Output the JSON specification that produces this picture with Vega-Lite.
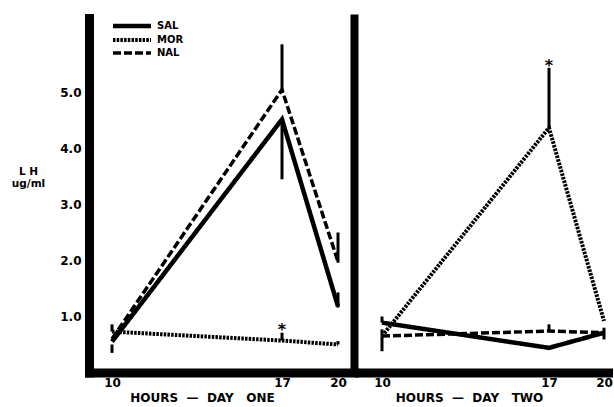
{
  "$schema": "https://vega.github.io/schema/vega-lite/v6.json",
  "padding": {"left": 11, "top": 18, "right": 0, "bottom": 0},
  "background": "white",
  "spacing": 0,
  "bounds": "flush",
  "datasets": {
    "lh": [
      {"day": "ONE", "group": "SAL", "hour": 10, "lh": 0.55},
      {"day": "ONE", "group": "SAL", "hour": 17, "lh": 4.52},
      {"day": "ONE", "group": "SAL", "hour": 20, "lh": 1.18},
      {"day": "ONE", "group": "MOR", "hour": 10, "lh": 0.73},
      {"day": "ONE", "group": "MOR", "hour": 17, "lh": 0.57},
      {"day": "ONE", "group": "MOR", "hour": 20, "lh": 0.5},
      {"day": "ONE", "group": "NAL", "hour": 10, "lh": 0.6},
      {"day": "ONE", "group": "NAL", "hour": 17, "lh": 5.05},
      {"day": "ONE", "group": "NAL", "hour": 20, "lh": 1.98},
      {"day": "TWO", "group": "SAL", "hour": 10, "lh": 0.89},
      {"day": "TWO", "group": "SAL", "hour": 17, "lh": 0.44},
      {"day": "TWO", "group": "SAL", "hour": 20, "lh": 0.71},
      {"day": "TWO", "group": "MOR", "hour": 10, "lh": 0.65},
      {"day": "TWO", "group": "MOR", "hour": 17, "lh": 4.37},
      {"day": "TWO", "group": "MOR", "hour": 20, "lh": 0.92},
      {"day": "TWO", "group": "NAL", "hour": 10, "lh": 0.65},
      {"day": "TWO", "group": "NAL", "hour": 17, "lh": 0.74},
      {"day": "TWO", "group": "NAL", "hour": 20, "lh": 0.71}
    ],
    "err": [
      {"day": "ONE", "hour": 10, "lo": 0.73, "hi": 0.86},
      {"day": "ONE", "hour": 10, "lo": 0.35, "hi": 0.5},
      {"day": "ONE", "hour": 17, "lo": 3.45, "hi": 4.52},
      {"day": "ONE", "hour": 17, "lo": 5.05, "hi": 5.86},
      {"day": "ONE", "hour": 17, "lo": 0.57, "hi": 0.71},
      {"day": "ONE", "hour": 20, "lo": 1.16, "hi": 1.43},
      {"day": "ONE", "hour": 20, "lo": 1.96, "hi": 2.5},
      {"day": "ONE", "hour": 20, "lo": 0.5, "hi": 0.56},
      {"day": "TWO", "hour": 10, "lo": 0.89, "hi": 1.0},
      {"day": "TWO", "hour": 10, "lo": 0.38, "hi": 0.77},
      {"day": "TWO", "hour": 17, "lo": 4.37, "hi": 5.44},
      {"day": "TWO", "hour": 17, "lo": 0.74, "hi": 0.86},
      {"day": "TWO", "hour": 20, "lo": 0.59, "hi": 0.8}
    ],
    "star": [
      {"day": "ONE", "hour": 17, "lh": 0.84, "sig": "*"},
      {"day": "TWO", "hour": 17, "lh": 5.56, "sig": "*"}
    ]
  },
  "config": {
    "view": {"stroke": null},
    "font": "DejaVu Sans",
    "axis": {
      "grid": false,
      "ticks": false,
      "domainColor": "black",
      "labelColor": "black",
      "titleColor": "black",
      "labelFont": "DejaVu Sans",
      "titleFont": "DejaVu Sans",
      "labelFontWeight": "bold",
      "titleFontWeight": "bold"
    }
  },
  "resolve": {
    "scale": {"x": "independent", "y": "independent", "strokeDash": "independent", "strokeWidth": "independent"},
    "legend": {"strokeDash": "independent"}
  },
  "hconcat": [
    {
      "width": 265,
      "height": 354.5,
      "layer": [
        {
          "data": {"name": "lh"},
          "transform": [{"filter": "datum.day === 'ONE'"}],
          "mark": {"type": "line", "color": "black", "strokeCap": "butt"},
          "encoding": {
            "x": {
              "field": "hour", "type": "quantitative",
              "scale": {"domain": [9, 10, 17, 20, 20.64], "range": [0, 23, 193, 249, 265], "nice": false, "zero": false},
              "axis": {
                "values": [10, 17, 20], "labelFontSize": 12, "labelPadding": 5,
                "domainWidth": 9, "domainCap": "square",
                "title": "HOURS\u00a0\u00a0—\u00a0\u00a0DAY\u00a0\u00a0\u00a0ONE", "titleFontSize": 12, "titleX": 113, "titleAlign": "center",
                "titlePadding": 4, "labelFlush": false, "labelOverlap": false
              }
            },
            "y": {
              "field": "lh", "type": "quantitative",
              "scale": {"domain": [0, 6.33], "nice": false, "zero": false},
              "axis": {
                "values": [1, 2, 3, 4, 5], "format": ".1f", "labelFontSize": 12, "labelPadding": 8,
                "domainWidth": 9, "domainCap": "square",
                "title": ["L H", "ug/ml"], "titleAngle": 0, "titleFontSize": 10.5,
                "titleAlign": "center", "titleBaseline": "top", "titleX": -61, "titleY": 148,
                "titleLineHeight": 12.5
              }
            },
            "strokeDash": {
              "field": "group", "type": "nominal",
              "scale": {"domain": ["SAL", "MOR", "NAL"], "range": [[1, 0], [2.5, 1.2], [8, 3]]},
              "legend": {
                "orient": "none", "legendX": 56, "legendY": 3, "title": null,
                "symbolType": "M-37,0H1", "symbolSize": 4, "symbolStrokeWidth": 3.5,
                "symbolStrokeColor": "black", "labelFontSize": 10, "labelFontWeight": "bold",
                "labelFont": "DejaVu Sans", "labelOffset": 2, "rowPadding": -10, "padding": 0,
                "labelColor": "black"
              }
            },
            "strokeWidth": {
              "field": "group", "type": "nominal",
              "scale": {"domain": ["SAL", "MOR", "NAL"], "range": [4.5, 3.5, 3.5]},
              "legend": null
            }
          }
        },
        {
          "data": {"name": "err"},
          "transform": [{"filter": "datum.day === 'ONE'"}],
          "mark": {"type": "rule", "color": "black", "strokeWidth": 3},
          "encoding": {
            "x": {"field": "hour", "type": "quantitative"},
            "y": {"field": "lo", "type": "quantitative"},
            "y2": {"field": "hi"}
          }
        },
        {
          "data": {"name": "star"},
          "transform": [{"filter": "datum.day === 'ONE'"}],
          "mark": {"type": "text", "fontSize": 16, "fontWeight": "bold", "color": "black", "baseline": "middle", "dy": 5},
          "encoding": {
            "x": {"field": "hour", "type": "quantitative"},
            "y": {"field": "lh", "type": "quantitative"},
            "text": {"field": "sig"}
          }
        }
      ]
    },
    {
      "width": 259,
      "height": 354.5,
      "layer": [
        {
          "data": {"name": "lh"},
          "transform": [{"filter": "datum.day === 'TWO'"}],
          "mark": {"type": "line", "color": "black", "strokeCap": "butt"},
          "encoding": {
            "x": {
              "field": "hour", "type": "quantitative",
              "scale": {"domain": [9, 10, 17, 20, 20.2], "range": [0, 28, 195, 250, 259], "nice": false, "zero": false},
              "axis": {
                "values": [10, 17, 20], "labelFontSize": 12, "labelPadding": 5,
                "domainWidth": 9, "domainCap": "butt",
                "title": "HOURS\u00a0\u00a0—\u00a0\u00a0DAY\u00a0\u00a0\u00a0TWO", "titleFontSize": 12, "titleX": 115, "titleAlign": "center",
                "titlePadding": 4, "labelFlush": false, "labelOverlap": false
              }
            },
            "y": {
              "field": "lh", "type": "quantitative",
              "scale": {"domain": [0, 6.33], "nice": false, "zero": false},
              "axis": {"labels": false, "title": null, "domainWidth": 8, "domainCap": "square"}
            },
            "strokeDash": {
              "field": "group", "type": "nominal",
              "scale": {"domain": ["SAL", "MOR", "NAL"], "range": [[1, 0], [2.5, 1.2], [8, 3]]},
              "legend": null
            },
            "strokeWidth": {
              "field": "group", "type": "nominal",
              "scale": {"domain": ["SAL", "MOR", "NAL"], "range": [4.5, 3.5, 3.5]},
              "legend": null
            }
          }
        },
        {
          "data": {"name": "err"},
          "transform": [{"filter": "datum.day === 'TWO'"}],
          "mark": {"type": "rule", "color": "black", "strokeWidth": 3},
          "encoding": {
            "x": {"field": "hour", "type": "quantitative"},
            "y": {"field": "lo", "type": "quantitative"},
            "y2": {"field": "hi"}
          }
        },
        {
          "data": {"name": "star"},
          "transform": [{"filter": "datum.day === 'TWO'"}],
          "mark": {"type": "text", "fontSize": 16, "fontWeight": "bold", "color": "black", "baseline": "middle", "dy": 5},
          "encoding": {
            "x": {"field": "hour", "type": "quantitative"},
            "y": {"field": "lh", "type": "quantitative"},
            "text": {"field": "sig"}
          }
        }
      ]
    }
  ]
}
